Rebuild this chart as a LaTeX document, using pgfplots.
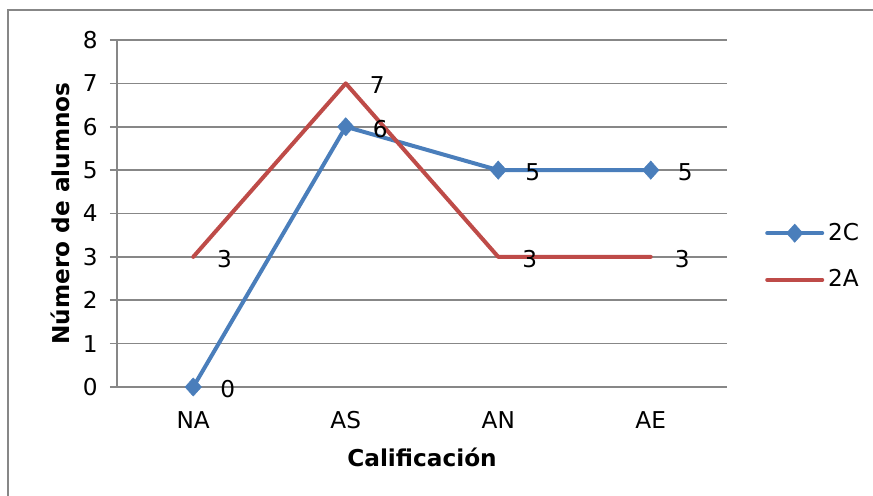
\documentclass[border=0pt]{standalone}
\usepackage{pgfplots}
\pgfplotsset{compat=1.18}
\usepackage{fontspec}
\setmainfont{DejaVu Sans}
\definecolor{cblue}{HTML}{4A7EBB}
\definecolor{cred}{HTML}{BE4B48}
\definecolor{cgrid}{HTML}{878787}
\begin{document}
\fontsize{11.6}{14}\selectfont
\begin{tikzpicture}
\useasboundingbox (0,0) rectangle (436.5pt,247.5pt);
\draw[cgrid, line width=0.8pt] (4pt,-2pt) -- (4pt,242.5pt) -- (440pt,242.5pt);
\begin{axis}[
  at={(58.5pt,54pt)}, anchor=south west,
  scale only axis, width=305pt, height=173.5pt,
  xmin=-0.5, xmax=3.5, ymin=0, ymax=8,
  xtick={0,1,2,3}, xticklabels={NA,AS,AN,AE},
  ytick={0,1,...,8},
  /pgf/number format/assume math mode=true,
  axis x line*=bottom, axis y line*=left,
  axis line style={cgrid, line width=0.8pt, -},
  x tick style={draw=none},
  y tick style={cgrid, line width=0.8pt},
  tick align=outside, major tick length=3.5pt,
  ymajorgrids, grid style={cgrid, line width=0.8pt},
  ticklabel style={font=\fontsize{11.6}{14}\selectfont},
  yticklabel style={anchor=east, inner sep=0pt, xshift=-6pt},
  xticklabel style={anchor=north, inner sep=0pt, yshift=-8.5pt},
  xlabel={\textbf{Calificación}}, ylabel={\textbf{Número de alumnos}},
  xlabel style={at={(axis description cs:0.5,-0.2017)}, anchor=center},
  ylabel style={at={(axis description cs:-0.0934,0.5)}, anchor=center},
  legend style={at={(axis description cs:1.062,0.376)}, anchor=west, draw=none, fill=none,
    row sep=9pt, inner sep=0pt, cells={anchor=west}},
  legend image code/.code={\draw[#1, mark repeat=2, mark phase=2] plot coordinates {(0pt,0pt) (13.75pt,0pt) (27.5pt,0pt)};},
  nodes near coords={\pgfmathprintnumber[assume math mode=true]{\pgfplotspointmeta}},
  every node near coord/.style={anchor=west, inner sep=0pt, xshift=11pt, yshift=-1pt, text=black, font=\fontsize{11.6}{14}\selectfont},
  clip=false,
]
\addplot[cblue, line width=2pt, line cap=round, line join=round, mark=diamond*, mark size=4.6pt,
  mark options={fill=cblue, draw=cblue, line width=0.2pt, xscale=1.2},
  every node near coord/.append style={xshift=2.5pt}] coordinates {(0,0) (1,6) (2,5) (3,5)};
\addlegendentry{2C}
\addplot[cred, line width=2pt, line cap=round, line join=round, no marks] coordinates {(0,3) (1,7) (2,3) (3,3)};
\addlegendentry{2A}
\end{axis}
\end{tikzpicture}
\end{document}
